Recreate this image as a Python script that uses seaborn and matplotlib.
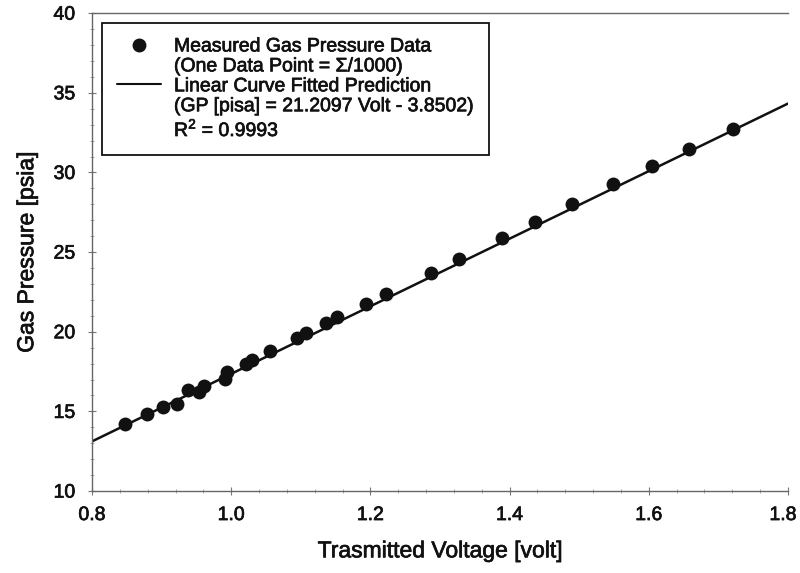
import numpy as np
import pandas as pd
import matplotlib
matplotlib.use("Agg")
import matplotlib.pyplot as plt
import matplotlib.transforms as mtransforms
import matplotlib.patheffects as pe
from matplotlib.lines import Line2D
from matplotlib.ticker import MultipleLocator
import seaborn as sns

# Data
voltage = [0.848, 0.879, 0.902, 0.922, 0.938, 0.954, 0.961, 0.991, 0.994, 1.021,
           1.030, 1.056, 1.094, 1.108, 1.136, 1.152, 1.194, 1.222, 1.287, 1.327,
           1.389, 1.437, 1.489, 1.548, 1.604, 1.658, 1.721]
pressure = [14.2, 14.85, 15.3, 15.45, 16.35, 16.2, 16.6, 17.05, 17.5, 17.95,
            18.2, 18.8, 19.6, 19.95, 20.55, 20.95, 21.75, 22.4, 23.7, 24.55,
            25.9, 26.9, 28.05, 29.25, 30.4, 31.5, 32.7]
fit_slope = 21.2097
fit_intercept = -3.8502
fit_x = [0.8, 1.8]
x_ticks = [0.8, 1.0, 1.2, 1.4, 1.6, 1.8]
y_ticks = [10, 15, 20, 25, 30, 35, 40]

label_points = "Measured Gas Pressure Data"
label_points2 = "(One Data Point = \u03a3/1000)"
label_fit = "Linear Curve Fitted Prediction"
label_fit2 = "(GP [pisa] = 21.2097 Volt - 3.8502)"
label_fit3 = "R$^2$ = 0.9993"

sns.set_theme(style="white")
plt.rcParams['font.family'] = ['Liberation Sans', 'DejaVu Sans']
plt.rcParams['mathtext.fontset'] = 'custom'
plt.rcParams['mathtext.rm'] = 'Liberation Sans'

df = pd.DataFrame({"Voltage": voltage, "Pressure": pressure})
fit_df = pd.DataFrame({"Voltage": fit_x,
                       "Pressure": [fit_slope * v + fit_intercept for v in fit_x]})

fig = plt.figure(figsize=(8.0, 5.73), dpi=100)
ax = fig.add_axes([0.115, 0.143, 0.870, 0.834])

sns.lineplot(data=fit_df, x="Voltage", y="Pressure", ax=ax, color="#111111",
             linewidth=1.8, zorder=2)
sns.scatterplot(data=df, x="Voltage", y="Pressure", ax=ax, color="#111111",
                s=100, edgecolor="#111111", linewidth=0, zorder=3)

ax.set_xlim(0.8, 1.8)
ax.set_ylim(10, 40)
ax.set_xticks(x_ticks)
ax.set_xticklabels([f"{v:.1f}" for v in x_ticks])
ax.set_yticks(y_ticks)
ax.xaxis.set_minor_locator(MultipleLocator(0.04))
ax.yaxis.set_minor_locator(MultipleLocator(1))
ax.tick_params(axis="x", which="major", pad=8.5)
ax.tick_params(axis="y", which="major", pad=9)
ax.tick_params(axis="both", which="major", direction="inout", length=6, width=0.8,
               color="#777777", labelsize=14, labelcolor="#111111",
               bottom=True, left=True)
ax.tick_params(axis="both", which="minor", direction="inout", length=3, width=0.6,
               color="#999999", bottom=True, left=True)

# keep the last x tick label inside the canvas
last = ax.get_xticklabels()[-1]
last.set_transform(last.get_transform() +
                   mtransforms.ScaledTranslation(-5 / 100, 0, fig.dpi_scale_trans))

for side in ["left", "bottom", "top"]:
    ax.spines[side].set_visible(True)
    ax.spines[side].set_color("#666666")
    ax.spines[side].set_linewidth(1.0)
ax.spines["right"].set_visible(False)

ax.set_xlabel("Trasmitted Voltage [volt]", fontsize=16.5, color="#111111", labelpad=11)
ax.set_ylabel("Gas Pressure [psia]", fontsize=16.5, color="#111111", labelpad=11)

blank = Line2D([], [], color="none", linestyle="none")
handles = [
    Line2D([], [], marker="o", color="#111111", linestyle="none", markersize=9),
    blank,
    Line2D([], [], color="#111111", linewidth=1.5),
    blank,
    blank,
]
labels = [label_points, label_points2, label_fit, label_fit2, label_fit3]
leg = ax.legend(handles, labels, loc="upper left",
                bbox_to_anchor=(0.0144, 0.979), borderaxespad=0,
                frameon=True, fancybox=False, framealpha=1,
                edgecolor="#111111", fontsize=14, labelspacing=0.12,
                handlelength=2.3, handletextpad=0.65, borderpad=0.75)
leg.get_frame().set_linewidth(1.3)
for t in leg.get_texts():
    t.set_color("#111111")

# slightly heavier text, as in the scanned reference
stroke = [pe.withStroke(linewidth=0.5, foreground="#111111")]
for t in (list(leg.get_texts()) + ax.get_xticklabels() + ax.get_yticklabels()
          + [ax.xaxis.label, ax.yaxis.label]):
    t.set_path_effects(stroke)

fig.savefig("out.png", dpi=100, facecolor="white")
